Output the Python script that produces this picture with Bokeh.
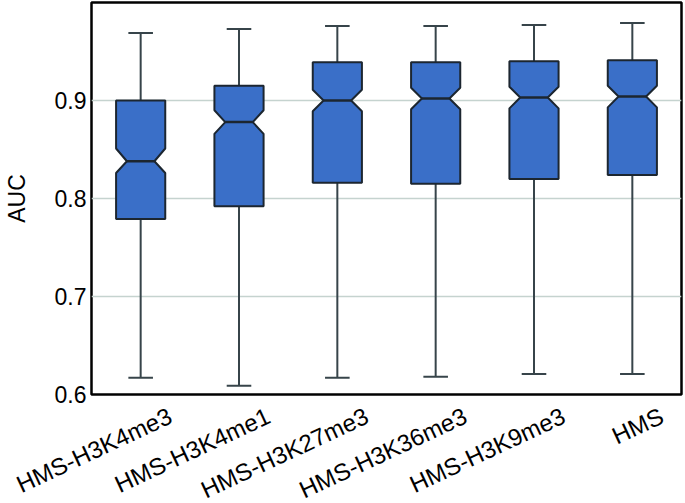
import math
from bokeh.plotting import figure
from bokeh.models import FixedTicker, Range1d
from bokeh.embed import file_html
from bokeh.resources import INLINE

categories = ["HMS-H3K4me3", "HMS-H3K4me1", "HMS-H3K27me3", "HMS-H3K36me3", "HMS-H3K9me3", "HMS"]
whisk_hi = [0.969, 0.973, 0.976, 0.976, 0.977, 0.979]
q3 =       [0.900, 0.915, 0.939, 0.939, 0.940, 0.941]
notch_hi = [0.851, 0.890, 0.911, 0.913, 0.914, 0.915]
median =   [0.838, 0.878, 0.900, 0.902, 0.903, 0.904]
notch_lo = [0.826, 0.866, 0.889, 0.891, 0.892, 0.893]
q1 =       [0.779, 0.792, 0.816, 0.815, 0.820, 0.824]
whisk_lo = [0.617, 0.609, 0.617, 0.618, 0.621, 0.621]
y_ticks = [0.6, 0.7, 0.8, 0.9]

FONT = "Liberation Sans"
FILL = "#3a6fc8"
EDGE = "#1c2630"
WHISK = "#37444a"

centers = [i + 0.5 for i in range(len(categories))]
hw = 0.25      # half box width
inset = 0.11   # notch inset
cap = 0.125

p = figure(frame_width=590, frame_height=392, output_backend="svg", toolbar_location=None,
           x_range=Range1d(0, len(categories)), y_range=Range1d(0.6, 1.0),
           min_border_left=83, min_border_right=2, min_border_top=2, min_border_bottom=90)

# whiskers
p.segment(x0=centers, y0=q3, x1=centers, y1=whisk_hi, line_color=WHISK, line_width=2)
p.segment(x0=centers, y0=whisk_lo, x1=centers, y1=q1, line_color=WHISK, line_width=2)
p.segment(x0=[c - cap for c in centers], y0=whisk_hi, x1=[c + cap for c in centers], y1=whisk_hi,
          line_color=WHISK, line_width=2)
p.segment(x0=[c - cap for c in centers], y0=whisk_lo, x1=[c + cap for c in centers], y1=whisk_lo,
          line_color=WHISK, line_width=2)

xs, ys = [], []
for c, a, nh, m, nl, b in zip(centers, q3, notch_hi, median, notch_lo, q1):
    xs.append([c - hw, c + hw, c + hw, c + hw - inset, c + hw, c + hw, c - hw, c - hw, c - hw + inset, c - hw])
    ys.append([a, a, nh, m, nl, b, b, nl, m, nh])
p.patches(xs=xs, ys=ys, fill_color=FILL, line_color=EDGE, line_width=2)
p.segment(x0=[c - hw + inset for c in centers], y0=median, x1=[c + hw - inset for c in centers], y1=median,
          line_color=EDGE, line_width=2.5)

# axes
p.yaxis.ticker = FixedTicker(ticks=y_ticks)
p.yaxis.axis_label = "AUC"
p.yaxis.axis_label_text_font = FONT
p.yaxis.axis_label_text_font_size = "23px"
p.yaxis.axis_label_text_font_style = "normal"
p.yaxis.axis_label_text_color = "black"
p.yaxis.axis_label_standoff = 22
p.yaxis.major_label_text_font = FONT
p.yaxis.major_label_text_font_size = "23px"
p.yaxis.major_label_text_color = "black"
p.yaxis.major_label_standoff = 5

label_shift = 0.3
p.xaxis.ticker = FixedTicker(ticks=[c + label_shift for c in centers])
p.xaxis.major_label_overrides = {c + label_shift: name for c, name in zip(centers, categories)}
p.xaxis.major_label_orientation = math.radians(25)
p.xaxis.major_label_text_font = FONT
p.xaxis.major_label_text_font_size = "24px"
p.xaxis.major_label_text_color = "black"
p.xaxis.major_label_standoff = 20

for ax in (p.xaxis, p.yaxis):
    ax.axis_line_color = None
    ax.major_tick_line_color = None
    ax.minor_tick_line_color = None
    ax.major_tick_out = 0
    ax.major_tick_in = 0

p.xgrid.grid_line_color = None
p.ygrid.grid_line_color = "#c5d3cf"
p.ygrid.grid_line_width = 1.5

p.outline_line_color = "black"
p.outline_line_width = 2.5
p.background_fill_color = "white"
p.border_fill_color = "white"

open("out.html", "w").write(file_html(p, INLINE))
